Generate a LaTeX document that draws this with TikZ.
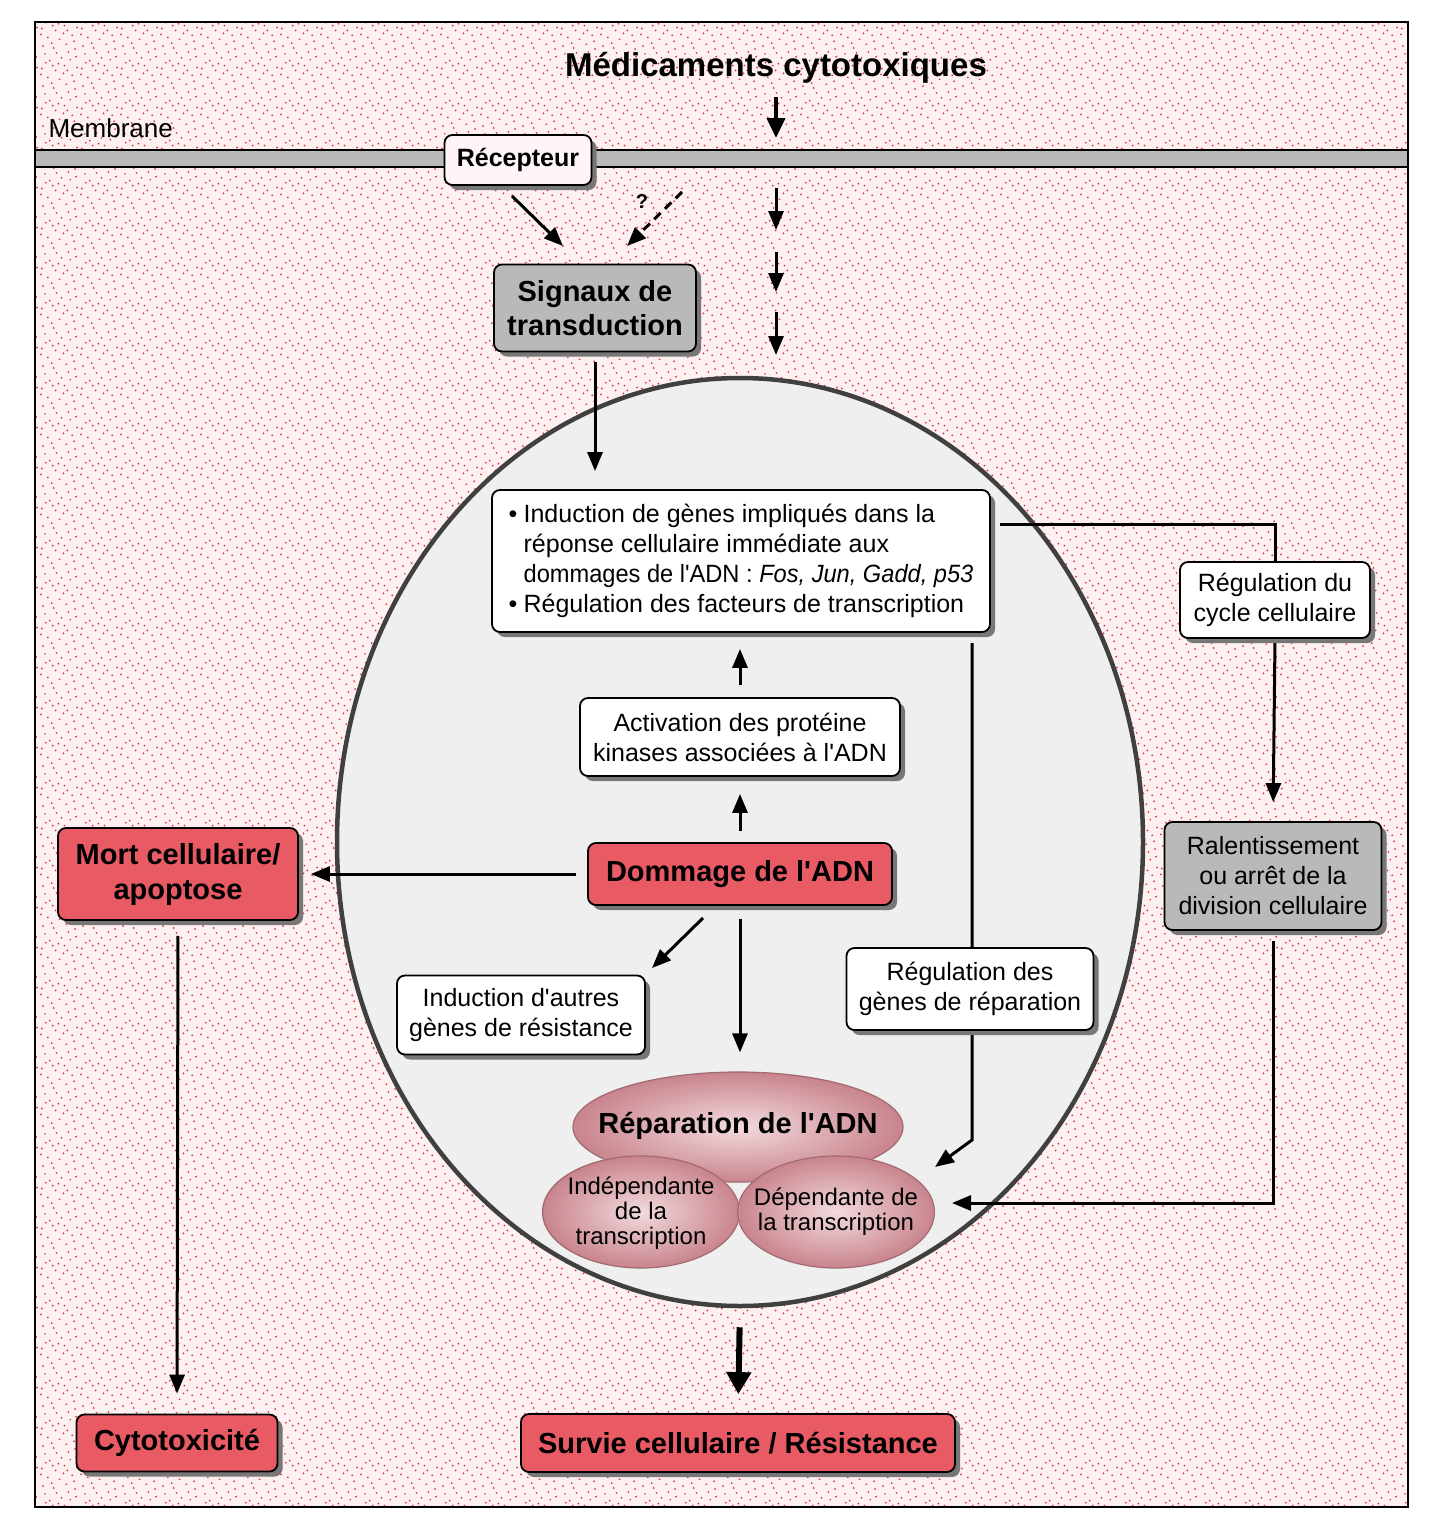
\documentclass[tikz,border=0pt]{standalone}
\usepackage{fontspec}
\setmainfont{Liberation Sans}
\usetikzlibrary{arrows.meta,shadows,shapes.geometric,patterns}
\definecolor{bgbase}{HTML}{FDF0F1}
\definecolor{dotred}{HTML}{E0303D}
\definecolor{cellgray}{HTML}{EFEFEF}
\definecolor{boxred}{HTML}{E85A64}
\definecolor{boxgray}{HTML}{B9B9B9}
\definecolor{shadowgray}{HTML}{777777}
\definecolor{repdark}{HTML}{C9848D}
\definecolor{replight}{HTML}{F2DADD}
\definecolor{recfill}{HTML}{FFF5F6}
\newcommand{\ap}{\textquotesingle}
\pgfdeclarepatternformonly{stipple}{\pgfpointorigin}{\pgfqpoint{40pt}{40pt}}{\pgfqpoint{40pt}{40pt}}{%
  \foreach \px/\py in {3/4,14/2,27/6,36/1,8/13,20/11,33/15,2/22,16/20,25/25,38/23,10/30,22/33,31/31,5/37,17/38,29/39,37/34,12/7,35/9,6/28,24/17,19/27,1/16,28/20,13/25}{%
    \pgfpathcircle{\pgfqpoint{\px pt}{\py pt}}{1pt}}%
  \pgfusepath{fill}}
\pgfdeclarelayer{bg}
\pgfdeclarelayer{edges}
\pgfsetlayers{bg,edges,main}
\tikzset{
  box/.style={draw=black, line width=1.8pt, rounded corners=8pt, fill=white,
    drop shadow={shadow xshift=5pt, shadow yshift=-5pt, fill=shadowgray, opacity=1},
    align=center, inner sep=0pt, font=\fontsize{25}{30}\selectfont},
  redbox/.style={box, fill=boxred, font=\bfseries\fontsize{29}{35}\selectfont},
  graybox/.style={box, fill=boxgray},
  arr/.style={line width=3pt, -{Triangle[length=19pt,width=15pt]}},
  bigarr/.style={line width=6pt, -{Triangle[length=22pt,width=24pt]}},
  plain/.style={line width=3pt},
  repell/.style={ellipse, draw=repdark!80!black, line width=1.2pt, inner sep=0pt,
    inner color=replight, outer color=repdark},
  reptext/.style={align=center, inner sep=0pt, font=\fontsize{24}{25}\selectfont},
}
\begin{document}
\begin{tikzpicture}[x=1pt,y=-1pt]
\useasboundingbox (0,0) rectangle (1440,1529);
\begin{pgfonlayer}{bg}
  \fill[white] (0,0) rectangle (1440,1529);
  \fill[bgbase] (35,22) rectangle (1408,1507);
  \fill[pattern=stipple, pattern color=dotred] (35,22) rectangle (1408,1507);
  \draw[line width=2pt] (35,22) rectangle (1408,1507);
  \draw[line width=2pt, fill=gray!55] (35,150) rectangle (1408,167);
  \node[ellipse, draw=black!75, line width=4.5pt, fill=cellgray, minimum width=806pt, minimum height=928pt, inner sep=0pt] (cell) at (740,842) {};
\end{pgfonlayer}

% texts
\node[font=\bfseries\fontsize{33}{38}\selectfont] (med) at (776,68) {Médicaments cytotoxiques};
\node[anchor=west, font=\fontsize{26}{30}\selectfont] (memb) at (45,128) {Membrane};
\node[font=\bfseries\fontsize{20}{24}\selectfont] (q) at (642,202) {?};

% boxes
\node[box, fill=recfill, font=\bfseries\fontsize{25}{30}\selectfont, minimum width=147pt, minimum height=50pt] (recep) at (518,160) {Récepteur};
\node[graybox, font=\bfseries\fontsize{29}{34}\selectfont, minimum width=202pt, minimum height=87pt] (signaux) at (595,308) {Signaux de\\transduction};
\node[box, minimum width=498pt, minimum height=142pt, align=left] (induc) at (741,561) {%
\makebox[15pt][l]{\textbullet}Induction de gènes impliqués dans la\\
\hspace*{15pt}réponse cellulaire immédiate aux\\
\hspace*{15pt}\scalebox{0.945}[1]{dommages de l\ap ADN : \textit{Fos, Jun, Gadd, p53}}\\
\makebox[15pt][l]{\textbullet}Régulation des facteurs de transcription};
\node[box, minimum width=320pt, minimum height=78pt] (activ) at (740,737) {Activation des protéine\\kinases associées à l\ap ADN};
\node[redbox, minimum width=304pt, minimum height=62pt] (dommage) at (740,874) {Dommage de l\ap ADN};
\node[redbox, minimum width=240pt, minimum height=92pt] (mort) at (178,874) {Mort cellulaire/\\apoptose};
\node[redbox, minimum width=201pt, minimum height=57pt] (cyto) at (177,1443) {Cytotoxicité};
\node[box, minimum width=248pt, minimum height=79pt] (autres) at (521,1015) {Induction d\ap autres\\gènes de résistance};
\node[box, minimum width=247pt, minimum height=82pt] (repgenes) at (970,989) {Régulation des\\gènes de réparation};
\node[box, minimum width=190pt, minimum height=76pt] (cycle) at (1275,600) {Régulation du\\cycle cellulaire};
\node[graybox, minimum width=217pt, minimum height=108pt] (ralent) at (1273,876) {Ralentissement\\ou arrêt de la\\division cellulaire};
\node[redbox, minimum width=434pt, minimum height=58pt] (survie) at (738,1443) {Survie cellulaire / Résistance};

% repair ellipses
\node[repell, minimum width=330pt, minimum height=110pt] (reptop) at (738,1127) {};
\node[reptext, font=\bfseries\fontsize{29}{32}\selectfont] (reptopt) at (738,1126) {Réparation de l\ap ADN};
\node[repell, minimum width=197pt, minimum height=112pt] (repL) at (641,1212) {};
\node[reptext] (repLt) at (641,1213) {Indépendante\\de la\\transcription};
\node[repell, minimum width=197pt, minimum height=112pt] (repR) at (836,1212) {};
\node[reptext] (repRt) at (836,1212) {Dépendante de\\la transcription};

% free ends
\coordinate (m1) at (776,138);
\coordinate (a1s) at (776,188); \coordinate (a1e) at (776,230);
\coordinate (a2s) at (776,252); \coordinate (a2e) at (776,292);
\coordinate (a3s) at (776,312); \coordinate (a3e) at (776,355);
\coordinate (r1) at (512,196); \coordinate (r2) at (563,246);
\coordinate (d1) at (682,192); \coordinate (d2) at (627,246);
\coordinate (g1) at (703,918); \coordinate (g2) at (652,968);
\coordinate (c0) at (1000,524);
\coordinate (v0) at (972,643); \coordinate (v1) at (972,1140); \coordinate (v2) at (935,1167);
\coordinate (h1) at (952,1203);

\begin{pgfonlayer}{edges}
  \draw[arr, line width=4pt, -{Triangle[length=20pt,width=18pt]}, shorten <=10pt] (med.south) -- (m1);
  \draw[arr] (a1s) -- (a1e);
  \draw[arr] (a2s) -- (a2e);
  \draw[arr] (a3s) -- (a3e);
  \draw[arr] (r1) -- (r2);
  \draw[arr, dash pattern=on 9pt off 6pt] (d1) -- (d2);
  \draw[arr, shorten <=10pt, shorten >=18pt] (signaux.south) -- (signaux.south |- induc.north);
  \draw[arr, shorten <=12pt, shorten >=16pt] (activ.north) -- (activ.north |- induc.south);
  \draw[arr, shorten <=11pt, shorten >=17pt] (dommage.north) -- (activ.south);
  \draw[arr, shorten <=11pt, shorten >=12pt] (dommage.west) -- (mort.east);
  \draw[arr, shorten <=15pt, shorten >=20pt] (mort.south) -- (cyto.north);
  \draw[arr] (g1) -- (g2);
  \draw[arr, shorten <=13pt, shorten >=19pt] (dommage.south) -- (dommage.south |- reptop.north);
  \draw[plain] (c0) -| (cycle.north);
  \draw[arr, shorten >=19pt] (cycle.south) -- (ralent.north);
  \draw[arr, shorten <=10pt] (ralent.south) |- (h1);
  \draw[arr] (v0) -- (v1) -- (v2);
  \draw[bigarr, shorten <=19pt, shorten >=19pt] (cell.south) -- (survie.north);
\end{pgfonlayer}
\end{tikzpicture}
\end{document}
